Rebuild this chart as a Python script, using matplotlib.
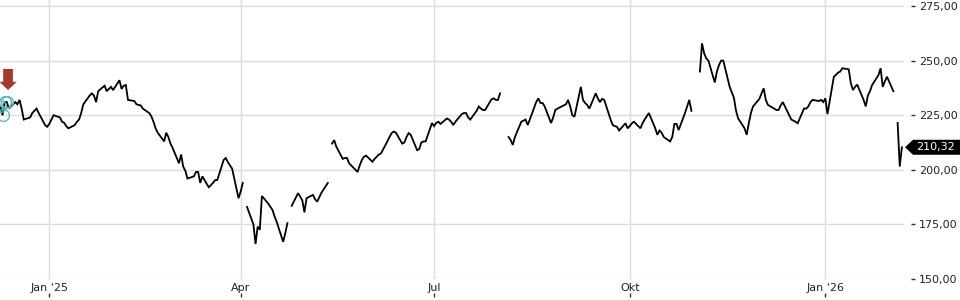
import matplotlib
matplotlib.use("Agg")
import matplotlib.pyplot as plt
import matplotlib.dates as mdates
from matplotlib.patches import Polygon
from matplotlib.transforms import IdentityTransform
import numpy as np
import pandas as pd

# ---- data (business days, Dec 9 2024 .. Feb 6 2026); None = no quotes ----
prices = [
    229, 225, 231, 231, 228,
    231, 230, 232, 228, 223,
    224, 226, 227, 228, 226,
    220.5, 219.7, 221, 223, 225,
    224, 222, 221.5, 220, 219,
    220.5, 222, 223, 226, 230,
    234, 235, 234, 231, 236,
    238.5, 236, 237, 238, 236.5,
    241, 237, 238.5, 238.8, 232,
    231.5, 230, 229.7, 229.5, 228,
    226, 224.5, 222, 219, 217,
    213, 217, 215, 212, 210,
    203, 207, 201.4, 199.5, 196,
    197, 199, 199, 194, 197,
    192, 193, 194, 195.3, 195.3,
    204.5, 205.4, 203.5, 202, 200.5,
    187, 190, 194, None, 183,
    175, 166, 174, 172.5, 188,
    184.5, 183, 181.6, 178.5, 176,
    167, 171, 175.6, None, 183.5,
    189.3, 187.7, 186, 180.5, 187,
    188.5, 186.5, 185.4, 187.5, 189.5,
    194, None, 212, 213.6, 210.6,
    205, 205.4, 205.4, 203, 202,
    199, 202, 204.5, 206, 206.5,
    203.7, 205, 206, 207, 207.5,
    213, 215, 216.8, 217.5, 217,
    212, 212.5, 215, 216.8, 216,
    209, 209.5, 212.5, 213, 213,
    221.4, 220, 221.5, 222, 221,
    223.5, 223, 222, 220.5, 222,
    225.5, 226, 226, 224, 223,
    227, 229, 228, 227.4, 227.4,
    232.3, 232.7, 232, 232, 235,
    None, 215, 213.6, 211.4, 215,
    222, 222.5, 223, 220.5, 223,
    231, 232.7, 230.6, 230.6, 229,
    221.4, 224, 227.4, 228, 228.5,
    230, 232, 229, 225, 224.3,
    238, 232, 230.6, 229.7, 228,
    235, 232.7, 231, 232.5, 232,
    223, 220.5, 220, 219.7, 218,
    221.3, 219, 220, 221.3, 222,
    219, 221.3, 223, 224.5, 226,
    219, 216, 218, 217, 215,
    213, 215, 221, 221, 218.2,
    226, 229, 232, 227, None,
    245, 257.9, 253.3, 251, 250,
    240, 245, 248, 250, 250,
    238, 235.5, 233, 227, 223.5,
    219, 216, 221.3, 226, 229,
    232.5, 235, 237.3, 232, 229.7,
    228, 227.4, 227.4, 229.5, 231,
    225, 223, 222.5, 222, 221.3,
    228.1, 228, 229, 231, 232,
    231.5, 232, 231, 232.7, 225.5,
    242.6, 243.5, 244.5, 245, 246.5,
    246, 239.6, 236.5, 238, 239,
    232, 229, 234, 236, 238.8,
    243.4, 246.5, 238, 240.5, 242.6,
    236, None, 221.5, 201.5, 210.32,
]
dates = pd.bdate_range("2024-12-09", "2026-02-06")
last_price = 210.32
y_ticks = [150, 175, 200, 225, 250, 275]
x_tick_dates = pd.to_datetime(["2025-01-01", "2025-04-01", "2025-07-01",
                               "2025-10-01", "2026-01-01"])
x_tick_labels = ["Jan '25", "Apr", "Jul", "Okt", "Jan '26"]
event_idx = [0, 1, 2, 3]   # circled event markers
signal_idx = 3             # red down arrow

vals = np.array([np.nan if v is None else v for v in prices], dtype=float)
xd = mdates.date2num(dates.to_pydatetime())

W, H = 960, 300
fig = plt.figure(figsize=(W / 100, H / 100), dpi=100)
ax = fig.add_axes([0, 21 / H, 904 / W, 279 / H])
ax.set_xlim(mdates.date2num(pd.Timestamp("2024-12-08 19:30")),
            mdates.date2num(pd.Timestamp("2026-02-07")))
ax.set_ylim(150, 277.75)

for s in ax.spines.values():
    s.set_visible(False)
ax.set_axisbelow(True)
ax.grid(True, color="#dcdcdc", lw=1)

ax.plot(xd, vals, color="black", lw=1.3, solid_joinstyle="miter")

# event markers
ax.plot(xd[event_idx], vals[event_idx], "o", mfc="none", mec="#5db7c1",
        ms=8.5, mew=1)
ax.annotate("", xy=(xd[signal_idx] + 0.6, 236.5), xytext=(xd[signal_idx] + 0.6, 246.2),
            arrowprops=dict(arrowstyle="simple,head_length=0.6,head_width=1.25,tail_width=0.7",
                            fc="#a23a31", ec="none", shrinkA=0, shrinkB=0,
                            mutation_scale=10))

# y axis on right
ax.yaxis.tick_right()
ax.spines["right"].set_position(("outward", 5))
ax.set_yticks(y_ticks)
ax.set_yticklabels([f"{v:.2f}".replace(".", ",") for v in y_ticks])
ax.tick_params(axis="y", direction="out", length=3, width=1, color="#333333",
               pad=3, labelsize=8, labelcolor="#222222")

# x axis
xt = mdates.date2num(x_tick_dates.to_pydatetime())
ax.set_xticks(xt)
ax.set_xticklabels(x_tick_labels)
ax.tick_params(axis="x", length=0, pad=3, labelsize=8, labelcolor="#222222")
ax.vlines(xt, -0.050, -0.064, transform=ax.get_xaxis_transform(),
          color="#333333", lw=1, clip_on=False)

# last price label
fig.canvas.draw()
ypx = ax.transData.transform((xd[-1], last_price))[1]
xpx = ax.transData.transform((ax.get_xlim()[1], last_price))[0]
h = 7.5
poly = Polygon([(xpx + 1, ypx), (xpx + 9, ypx + h), (W, ypx + h),
                (W, ypx - h), (xpx + 9, ypx - h)], closed=True,
               fc="black", ec="none", transform=IdentityTransform())
fig.add_artist(poly)
fig.text(xpx + 12.5, ypx, f"{last_price:.2f}".replace(".", ","),
         color="white", fontsize=8, va="center", ha="left",
         transform=IdentityTransform())

fig.savefig("out.png", dpi=100, facecolor="white")
